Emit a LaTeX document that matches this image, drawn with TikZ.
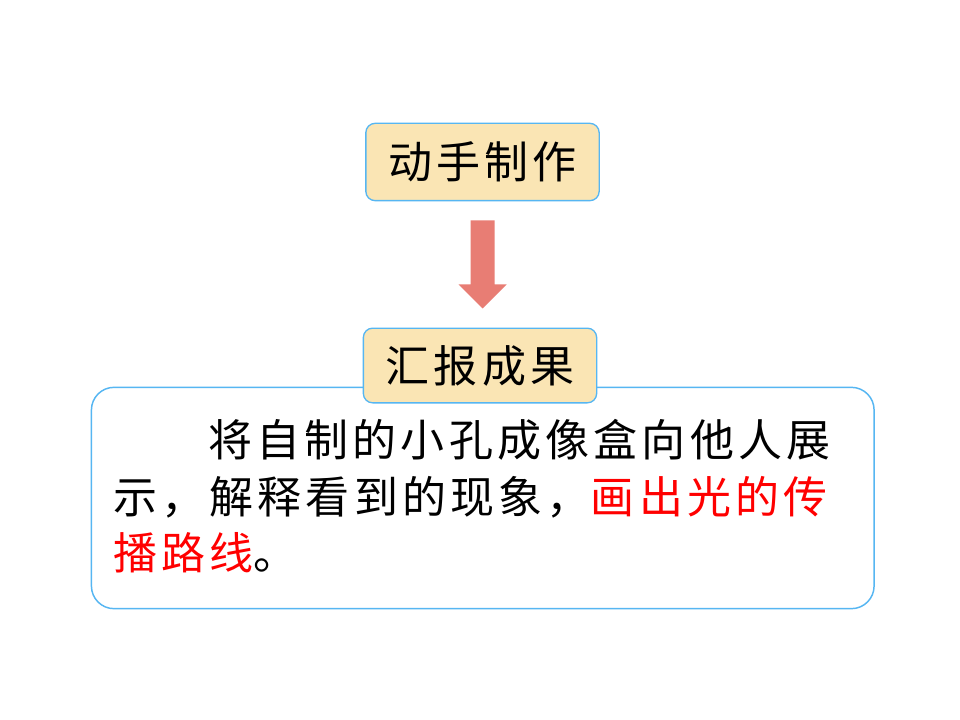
\documentclass[tikz,border=0pt]{standalone}
\usepackage{fontspec}
\newfontfamily\cjk{Noto Sans CJK SC}[LetterSpace=9.5]
\usepackage{xcolor}
\usepackage{tikz}
\usetikzlibrary{calc}
\usetikzlibrary{positioning}
\definecolor{boxfill}{RGB}{250,229,180}
\definecolor{boxline}{RGB}{86,182,242}
\definecolor{arrowfill}{RGB}{232,125,116}
\definecolor{hired}{RGB}{255,0,0}

\begin{document}
\begin{tikzpicture}[x=0.75pt,y=-0.75pt,
	stepbox/.style={draw=boxline,fill=boxfill,line width=1pt,rounded corners=7pt,
		minimum width=175pt,minimum height=58pt,inner sep=0pt,font=\cjk\fontsize{33}{38}\selectfont},
	outerbox/.style={draw=boxline,fill=white,line width=1.1pt,rounded corners=17pt,
		minimum width=587pt,minimum height=166pt,inner sep=0pt},
	textline/.style={anchor=base west,inner sep=0pt,font=\cjk\fontsize{33}{38}\selectfont}]
	\useasboundingbox[fill=white] (0,0) rectangle (960,720);
	\node[stepbox] (make) at (482.5,162) {动手制作};
	\node[outerbox] (task) at (482.75,498) {};
	\node[stepbox,minimum height=56pt] (report) at (480,365.5) {汇报成果};
	\fill[arrowfill] ($(make.south)+(-12,19)$) -- ($(make.south)+(12,19)$)
		-- ($(report.north)+(14.5,-43)$) -- ($(report.north)+(26.5,-43)$)
		-- ($(report.north)+(2.5,-19)$) -- ($(report.north)+(-21.5,-43)$)
		-- ($(report.north)+(-9.5,-43)$) -- cycle;
	\node[textline] (line1) at (208,456) {将自制的小孔成像盒向他人展};
	\node[textline] (line2) at (113,513) {示，解释看到的现象，\textcolor{hired}{画出光的传}};
	\node[textline] (line3) at (113,569) {\textcolor{hired}{播路线}。};
\end{tikzpicture}
\end{document}
